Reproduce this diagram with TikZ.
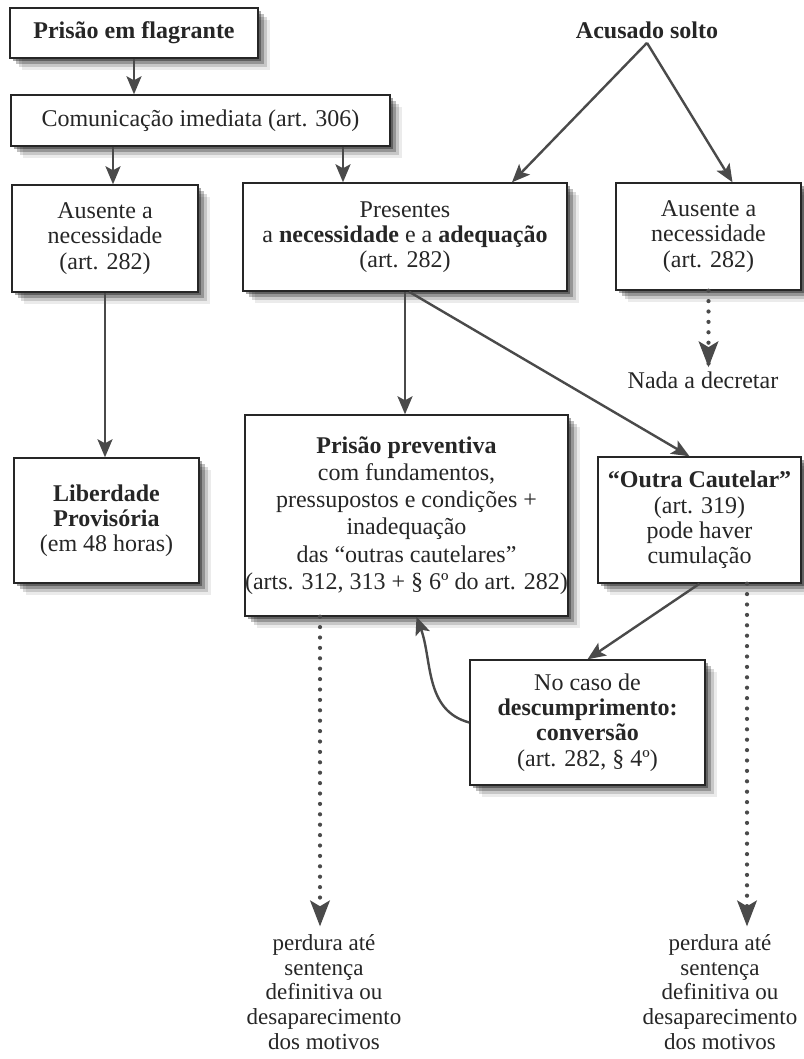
\documentclass[tikz,border=0pt]{standalone}
\usepackage{fontspec}
\setmainfont{Liberation Serif}
\usepackage{xcolor}
\usetikzlibrary{arrows.meta, shadows, calc, decorations.markings}

\definecolor{tinta}{HTML}{262626}
\definecolor{linha}{HTML}{4A4A4A}

\begin{document}
\begin{tikzpicture}[x=0.5pt, y=-0.5pt, text=tinta,
		font=\fontsize{12}{12.6}\selectfont]
	\tikzstyle{caixa}=[draw=tinta, line width=0.7pt, fill=white, align=center, inner sep=0pt,
		drop shadow={shadow xshift=1.5pt, shadow yshift=-1.5pt, opacity=.35, fill=black},
		drop shadow={shadow xshift=3pt, shadow yshift=-3pt, opacity=.25, fill=black},
		drop shadow={shadow xshift=4.5pt, shadow yshift=-4.5pt, opacity=.15, fill=black},
		drop shadow={shadow xshift=6pt, shadow yshift=-6pt, opacity=.08, fill=black}]
	\tikzstyle{texto}=[align=center, inner sep=2pt]
	\tikzstyle{seta}=[draw=linha, line width=1.2pt, -{Stealth[length=9pt, width=7.5pt, inset=2pt]}]
	\tikzstyle{pontos}=[draw=linha, line width=2.1pt, line cap=round, dash pattern=on 0pt off 5.2pt,
		postaction={decorate, decoration={markings, mark=at position 1 with
			{\arrow[solid, line width=0.6pt, linha]{Stealth[length=13pt, width=10pt, inset=3pt]}}}}]

	\fill[white] (0,0) rectangle (803,1059);
	\useasboundingbox (0,0) rectangle (803,1059);

	% coluna da prisao em flagrante
	\node[caixa, minimum width=124pt, minimum height=25pt] (flag) at (134,33) {\textbf{Prisão em flagrante}};
	\node[caixa, minimum width=189.5pt, minimum height=25.5pt] (comun) at (200.5,120.5) {Comunicação imediata (art. 306)};
	\node[caixa, minimum width=93pt, minimum height=53.5pt] (ausL) at (105,238.5) {Ausente a\\necessidade\\(art. 282)};
	\node[caixa, minimum width=162pt, minimum height=54pt] (pres) at (405,237) {Presentes\\a \textbf{necessidade} e a \textbf{adequação}\\(art. 282)};
	\node[caixa, minimum width=92.5pt, minimum height=53.5pt] (ausR) at (708.5,236.5) {Ausente a\\necessidade\\(art. 282)};
	\node[texto] (acus) at (647,30) {\textbf{Acusado solto}};
	\node[texto] (nada) at (703,380) {Nada a decretar};

	% segunda fila
	\node[caixa, minimum width=92.5pt, minimum height=62.5pt] (lib) at (106.5,520.5) {\textbf{Liberdade}\\\textbf{Provisória}\\(em 48 horas)};
	\node[caixa, minimum width=159.5pt, minimum height=100.5pt, font=\fontsize{12}{13.6}\selectfont] (prev) at (406.5,515.5)
		{\textbf{Prisão preventiva}\\com fundamentos,\\pressupostos e condições +\\inadequação\\das “outras cautelares”\\(arts. 312, 313 + § 6º do art. 282)};
	\node[caixa, minimum width=101.5pt, minimum height=63pt] (outra) at (699.5,520) {\textbf{“Outra Cautelar”}\\(art. 319)\\pode haver\\cumulação};
	\node[caixa, minimum width=117.5pt, minimum height=62.5pt] (caso) at (587.5,722.5) {No caso de\\\textbf{descumprimento:}\\\textbf{conversão}\\(art. 282, § 4º)};

	\node[texto, font=\fontsize{11.5}{12.3}\selectfont] (perd1) at (324,992) {perdura até\\sentença\\definitiva ou\\desaparecimento\\dos motivos};
	\node[texto, font=\fontsize{11.5}{12.3}\selectfont] (perd2) at (720,992) {perdura até\\sentença\\definitiva ou\\desaparecimento\\dos motivos};

	% setas
	\draw[seta] (flag.south) -- (flag.south |- comun.north);
	\draw[seta] ($(ausL.north |- comun.south)+(4pt,0)$) -- ($(ausL.north)+(4pt,0)$);
	\draw[seta] ($(pres.north |- comun.south)+(-31pt,0)$) -- ($(pres.north)+(-31pt,0)$);
	\draw[seta] (acus.south) -- ($(pres.north)+(53.5pt,0)$);
	\draw[seta] (acus.south) -- ($(ausR.north)+(12pt,0)$);
	\draw[pontos] (ausR.south) -- (ausR.south |- nada.north);
	\draw[seta] (ausL.south) -- (ausL.south |- lib.north);
	\draw[seta] (pres.south) -- (pres.south |- prev.north);
	\draw[seta] ($(pres.south)+(2pt,0)$) -- ($(outra.north)+(-5pt,0)$);
	\draw[seta] (outra.south) -- (caso.north);
	\draw[seta] (caso.west) to[out=165, in=-70] ($(prev.south)+(5pt,0)$);
	\draw[pontos] ($(perd1.north |- prev.south)+(-2pt,0)$) -- ($(perd1.north)+(-2pt,2pt)$);
	\draw[pontos] ($(perd2.north |- outra.south)+(13.5pt,0)$) -- ($(perd2.north)+(13.5pt,2pt)$);
\end{tikzpicture}
\end{document}
